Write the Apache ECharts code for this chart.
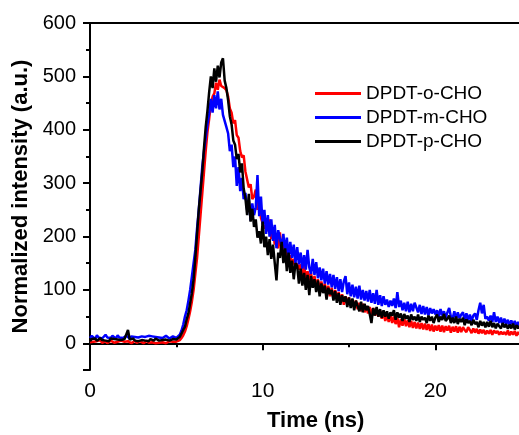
<!DOCTYPE html>
<html>
<head>
<meta charset="utf-8">
<script src="https://cdn.jsdelivr.net/npm/echarts@6/dist/echarts.min.js"></script>
<style>html,body{margin:0;padding:0;background:#fff}#c{width:519px;height:435px}</style>
</head>
<body>
<div id="c"></div>
<script>
// Sampling of the decay traces (ns)
const timeStart = 0;
const timeStep = 0.1;

const seriesNames = ['DPDT-o-CHO', 'DPDT-m-CHO', 'DPDT-p-CHO'];
const seriesColors = ['#ff0000', '#0000ff', '#000000'];

// DPDT-o-CHO (red), one value per 0.1 ns, 0 .. 25 ns
const redValues = [
  2,5,3,0,4,2,6,1,3,4,
  0,3,5,2,1,4,3,0,5,2,
  3,1,4,2,0,3,5,1,2,4,
  3,0,2,5,1,3,2,4,0,3,
  1,4,2,3,0,2,4,1,3,2,
  3,4,6,10,15,22,32,45,60,78,
  100,130,160,200,240,280,320,360,395,420,
  448,462,468,488,475,494,482,485,478,474,
  462,440,432,412,418,390,385,360,348,352,
  322,325,292,298,270,275,288,250,272,235,
  238,215,222,210,232,195,212,185,200,178,
  208,170,182,160,175,150,165,148,158,140,
  150,138,148,128,145,122,135,118,132,108,
  126,104,120,100,116,96,112,92,108,88,
  104,84,100,82,96,78,92,72,88,74,
  86,70,82,66,80,64,76,60,74,58,
  70,56,68,54,66,52,63,50,61,46,
  58,42,55,40,53,38,50,36,48,30,
  45,33,46,32,43,30,42,29,40,28,
  39,27,38,26,37,25,36,23,35,22,
  33,24,34,22,33,21,32,24,33,20,
  31,22,32,20,31,21,30,25,21,30,
  25,19,28,20,27,18,26,19,25,17,
  24,18,25,16,24,19,23,16,22,17,
  21,16,24,15,22,16,23,14,21,16,
  19
];

// DPDT-m-CHO (blue)
const blueValues = [
  10,14,12,8,15,11,13,9,12,16,
  11,13,10,14,12,9,15,11,13,10,
  12,14,11,9,13,10,12,15,11,8,
  13,10,12,9,14,11,13,10,12,9,
  11,13,10,12,14,11,9,12,13,10,
  10,12,16,24,35,50,62,80,100,125,
  150,175,215,250,290,330,360,385,410,430,
  458,432,465,440,472,438,458,428,430,405,
  393,360,372,330,350,295,330,285,310,270,
  282,250,268,230,262,240,255,315,238,275,
  222,250,205,240,200,232,192,222,178,212,
  215,180,205,170,198,162,190,160,185,150,
  180,148,170,140,165,138,175,142,130,158,
  128,152,122,142,118,140,112,135,110,130,
  105,128,102,124,98,120,96,116,126,92,
  114,88,110,86,106,84,108,82,100,80,
  98,78,100,76,94,74,100,72,90,70,
  88,72,82,68,80,70,84,66,96,68,
  80,62,76,60,78,58,74,60,76,78,
  58,72,55,70,54,68,52,66,56,64,
  54,62,50,64,52,60,48,58,66,50,
  46,60,45,58,47,54,58,44,56,43,
  54,42,52,56,44,62,76,56,72,46,
  50,42,52,40,58,40,50,38,48,36,
  46,36,44,34,43,33,42,32,40,31,
  36
];

// DPDT-p-CHO (black)
const blackValues = [
  4,8,6,9,5,7,10,6,8,5,
  7,4,9,6,8,5,7,10,6,9,
  8,5,25,7,6,9,5,8,4,7,
  6,9,5,7,4,8,6,5,9,7,
  5,8,6,4,7,9,5,6,8,7,
  7,8,12,18,25,31,45,56,75,94,
  120,160,205,250,285,320,365,405,435,470,
  500,478,515,490,520,498,526,534,492,478,
  455,425,410,380,372,345,355,320,337,290,
  272,240,280,228,252,218,232,198,210,187,
  228,180,200,165,195,158,185,150,118,170,
  160,190,150,178,135,170,132,155,120,150,
  145,112,140,108,132,100,128,90,126,104,
  120,96,118,88,112,94,108,82,104,92,
  100,80,98,76,94,72,90,78,88,68,
  86,66,84,62,80,70,60,78,58,74,
  62,70,55,38,66,52,68,50,64,48,
  62,50,60,46,58,52,62,44,58,48,
  56,42,55,46,52,40,54,44,50,42,
  54,40,50,44,48,38,52,42,50,38,
  48,54,40,50,44,55,42,46,52,38,
  48,38,50,36,46,40,48,34,45,38,
  42,34,44,36,40,30,42,33,40,30,
  40,31,42,30,38,28,37,32,28,38,
  30,36,27,35,28,37,26,34,28,33,
  30
];

const xTickLabels = ['0', '10', '20'];
const yTickLabels = ['0', '100', '200', '300', '400', '500', '600'];

const FONT = "'Liberation Sans', Arial, sans-serif";

function toPairs(vals) {
  return vals.map((v, i) => [+(timeStart + i * timeStep).toFixed(2), v]);
}

const chart = echarts.init(document.getElementById('c'), null, {renderer: 'canvas'});
const allValues = [redValues, blueValues, blackValues];

chart.setOption({
  animation: false,
  backgroundColor: '#ffffff',
  textStyle: {fontFamily: FONT},
  grid: {left: 90, top: 23, height: 347, width: 518, containLabel: false, outerBoundsMode: 'none'},
  title: {
    text: 'Time (ns)', left: 267, top: 410, padding: 0,
    textStyle: {fontFamily: FONT, fontSize: 22, fontWeight: 'bold', color: '#000'}
  },
  legend: {
    orient: 'vertical', left: 315, top: 84, padding: 0,
    itemWidth: 46, itemHeight: 3, itemGap: 5, icon: 'rect',
    data: seriesNames,
    textStyle: {fontFamily: FONT, fontSize: 19, color: '#000', lineHeight: 19}
  },
  xAxis: [{
    type: 'value', min: 0, max: 30, interval: 10,
    axisLine: {show: true, lineStyle: {color: '#000', width: 2}},
    axisTick: {show: true, inside: false, length: 7, lineStyle: {color: '#000', width: 2}},
    minorTick: {show: true, splitNumber: 2, length: 4, lineStyle: {color: '#000', width: 2}},
    splitLine: {show: false},
    axisLabel: {
      margin: 11, fontSize: 21, color: '#000', fontFamily: FONT,
      formatter: v => xTickLabels.includes(String(v)) ? String(v) : ''
    }
  }, {
    type: 'value', min: 0, max: 30, position: 'top',
    axisLine: {show: true, lineStyle: {color: '#000', width: 2}},
    axisTick: {show: false}, axisLabel: {show: false}, splitLine: {show: false}
  }],
  yAxis: {
    type: 'value', min: -50, max: 600, splitNumber: 6,
    name: 'Normalized intensity (a.u.)', nameLocation: 'middle', nameGap: 54,
    nameTextStyle: {fontFamily: FONT, fontSize: 22, fontWeight: 'bold', color: '#000'},
    axisLine: {show: true, lineStyle: {color: '#000', width: 2}},
    axisTick: {show: true, inside: false, length: 7, lineStyle: {color: '#000', width: 2}},
    minorTick: {show: true, splitNumber: 2, length: 4, lineStyle: {color: '#000', width: 2}},
    splitLine: {show: false},
    axisLabel: {
      margin: 14, fontSize: 20, color: '#000', fontFamily: FONT,
      formatter: v => yTickLabels.includes(String(v)) ? String(v) : ''
    }
  },
  series: seriesNames.map((name, k) => ({
    name: name, type: 'line', showSymbol: false, symbol: 'none',
    data: toPairs(allValues[k]),
    lineStyle: {color: seriesColors[k], width: 2.5},
    itemStyle: {color: seriesColors[k]},
    z: 2 + k
  }))
});
</script>
</body>
</html>
